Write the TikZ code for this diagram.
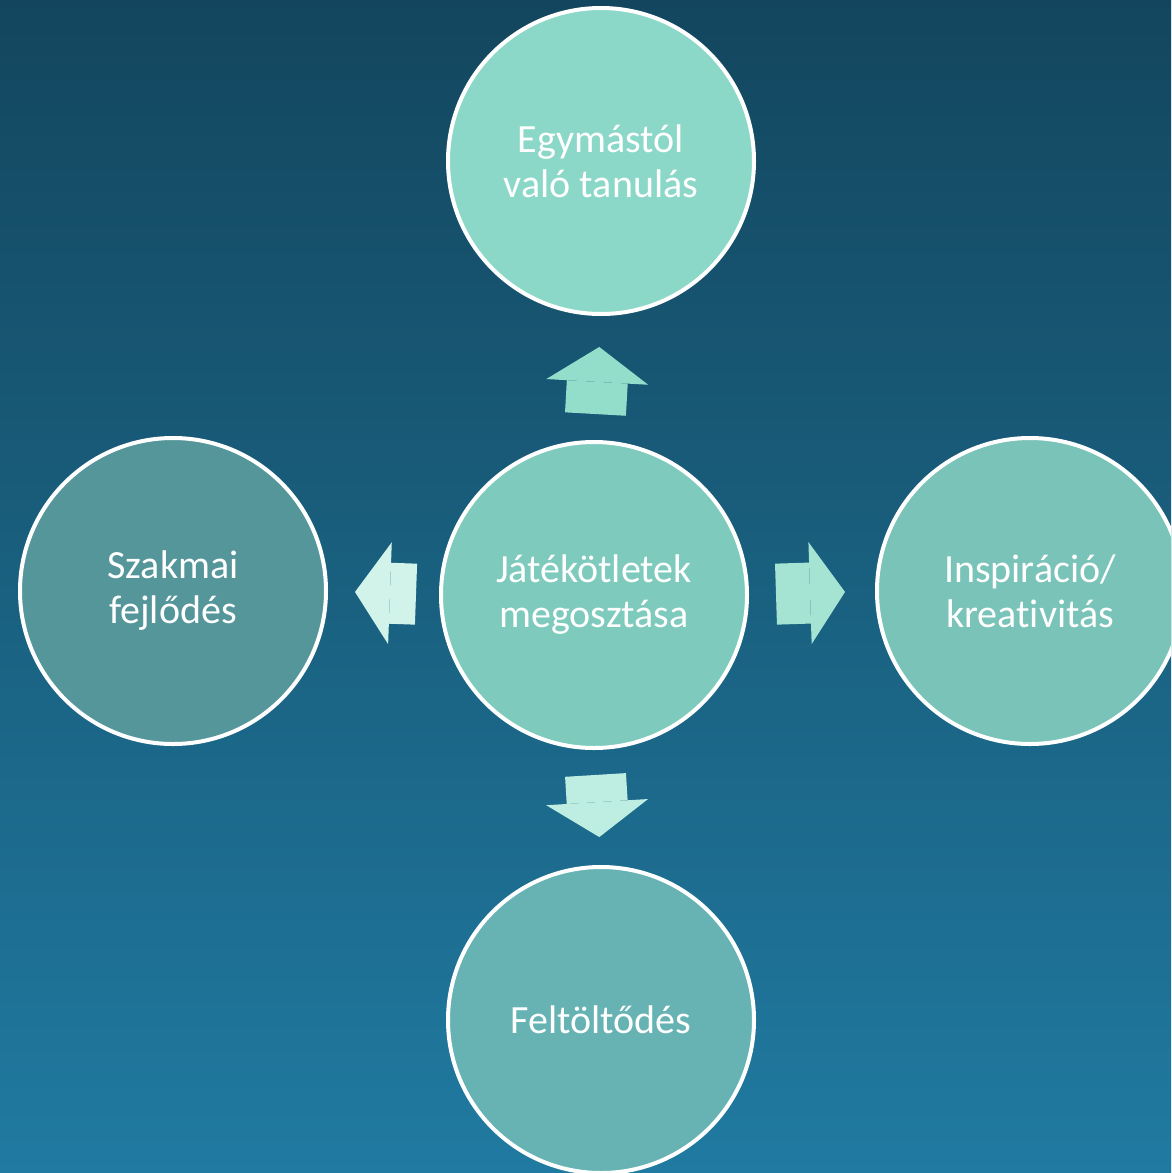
\documentclass[tikz,border=0pt]{standalone}
\usepackage{fontspec}
\setmainfont{Carlito}[Ligatures=NoCommon]
\usepackage{tikz}
\usetikzlibrary{arrows.meta}
\definecolor{bgtop}{HTML}{13465E}
\definecolor{bgmid}{HTML}{15506C}
\definecolor{bgbot}{HTML}{207AA1}
\definecolor{ctop}{HTML}{8BD8C9}
\definecolor{cmid}{HTML}{7ECABD}
\definecolor{cleft}{HTML}{54969A}
\definecolor{cright}{HTML}{79C3B8}
\definecolor{cbot}{HTML}{67B3B4}
\definecolor{aup}{HTML}{93DDCB}
\definecolor{aleft}{HTML}{D2F3EA}
\definecolor{aright}{HTML}{A5E3D3}
\definecolor{adown}{HTML}{BEEEE2}
\tikzset{
  bubble/.style={circle, draw=white, line width=4pt, minimum size=306pt,
    inner sep=0pt, text=white, align=center,
    font=\fontsize{40}{45}\selectfont},
  blockarrow/.style={line width=61pt,
    -{Triangle[length=35pt, width=102pt, line width=0pt]}}
}

\begin{document}
\begin{tikzpicture}[x=1pt, y=-1pt]

  \useasboundingbox (0,0) rectangle (1171,1173);
  \clip (0,0) rectangle (1171,1173);
  \shade[top color=bgtop, middle color=bgmid, bottom color=bgbot]
  (0,0) rectangle (1171,1173);

  \node[bubble, fill=cmid]   (mid)   at (594,595)  {Játékötletek\\megosztása};
  \node[bubble, fill=ctop]   (top)   at (601,161)  {Egymástól\\való tanulás};
  \node[bubble, fill=cleft]  (left)  at (173,591)  {Szakmai\\fejlődés};
  \node[bubble, fill=cright] (right) at (1030,591) {Inspiráció/\\kreativitás};
  \node[bubble, fill=cbot]   (bot)   at (601,1020) {Feltöltődés};

  \draw[blockarrow, aup, shorten <=26pt, shorten >=31pt]
  (mid.north) -- (top.south); %% mid -> top
  \draw[blockarrow, aright, shorten <=27pt, shorten >=30pt]
  (mid.east) -- (right.west); %% mid -> right
  \draw[blockarrow, adown, shorten <=25pt, shorten >=28pt]
  (mid.south) -- (bot.north); %% mid -> bot
  \draw[blockarrow, aleft, shorten <=23pt, shorten >=27pt]
  (mid.west) -- (left.east); %% mid -> left

\end{tikzpicture}
\end{document}
